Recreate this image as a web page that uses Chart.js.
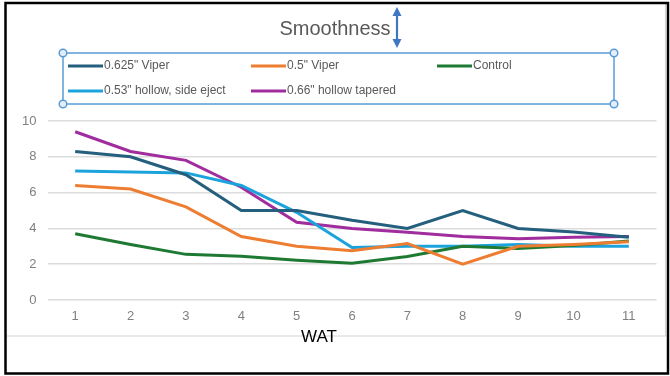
<!DOCTYPE html>
<html>
<head>
<meta charset="utf-8">
<title>Smoothness</title>
<script src="https://cdn.jsdelivr.net/npm/chart.js@4/dist/chart.umd.min.js"></script>
<style>
  html, body { margin: 0; padding: 0; background: #fff; }
  #wrap { width: 670px; height: 376px; position: relative; }
</style>
</head>
<body>
<div id="wrap"><canvas id="smoothChart"></canvas></div>
<script>
// data
const weeks = ['1', '2', '3', '4', '5', '6', '7', '8', '9', '10', '11'];
const viper625 = [8.3, 8.0, 7.0, 5.0, 5.0, 4.45, 4.0, 5.0, 4.0, 3.8, 3.5];
const viper5 = [6.4, 6.2, 5.2, 3.55, 3.0, 2.75, 3.15, 2.0, 3.0, 3.1, 3.25];
const control = [3.7, 3.1, 2.55, 2.45, 2.22, 2.05, 2.43, 3.0, 2.88, 3.05, 3.3];
const hollow53 = [7.2, 7.15, 7.1, 6.4, 4.9, 2.93, 3.0, 3.0, 3.1, 3.0, 3.0];
const hollow66 = [9.4, 8.3, 7.8, 6.3, 4.34, 4.0, 3.78, 3.55, 3.42, 3.5, 3.55];
const yTicks = [0, 2, 4, 6, 8, 10];

const seriesNames = ['0.625" Viper', '0.5" Viper', 'Control', '0.53" hollow, side eject', '0.66" hollow tapered'];
const seriesColors = ['#245f7e', '#ed7d31', '#1e7a32', '#1ca3dc', '#a02c9e'];
const seriesData = [viper625, viper5, control, hollow53, hollow66];

const FONT = '"Liberation Sans", Arial, sans-serif';

// legend grid, frame, arrow and axis caption (Excel-style screenshot)
const decorations = {
    id: 'decorations',
    beforeDraw(chart) {
        const ctx = chart.ctx;
        ctx.save();
        ctx.fillStyle = '#fff';
        ctx.fillRect(0, 0, chart.width, chart.height);
        ctx.restore();
    },
    afterDraw(chart) {
        const ctx = chart.ctx;
        ctx.save();

        // legend box with selection handles
        ctx.strokeStyle = '#5b9bd5';
        ctx.lineWidth = 1.5;
        ctx.strokeRect(63, 53, 551, 51);
        [[63, 53], [614, 53], [63, 104], [614, 104]].forEach(p => {
            ctx.beginPath();
            ctx.arc(p[0], p[1], 3.8, 0, Math.PI * 2);
            ctx.fillStyle = '#e3eefa';
            ctx.fill();
            ctx.stroke();
        });

        // legend items, 3 columns
        const cols = [68, 251, 437];
        const rows = [66, 91];
        ctx.font = '12px ' + FONT;
        ctx.textBaseline = 'middle';
        chart.data.datasets.forEach((ds, i) => {
            const x = cols[i % 3];
            const y = rows[Math.floor(i / 3)];
            ctx.strokeStyle = ds.borderColor;
            ctx.lineWidth = 3;
            ctx.beginPath();
            ctx.moveTo(x, y);
            ctx.lineTo(x + 35, y);
            ctx.stroke();
            ctx.fillStyle = '#595959';
            ctx.fillText(ds.label, x + 36, y);
        });

        // double arrow next to title
        ctx.strokeStyle = '#3f78c0';
        ctx.fillStyle = '#3f78c0';
        ctx.lineWidth = 2.2;
        ctx.beginPath();
        ctx.moveTo(397, 14);
        ctx.lineTo(397, 41);
        ctx.stroke();
        ctx.beginPath();
        ctx.moveTo(397, 7); ctx.lineTo(392.5, 16); ctx.lineTo(401.5, 16);
        ctx.closePath(); ctx.fill();
        ctx.beginPath();
        ctx.moveTo(397, 48); ctx.lineTo(392.5, 39); ctx.lineTo(401.5, 39);
        ctx.closePath(); ctx.fill();

        // outer picture edges
        ctx.strokeStyle = '#d4d4d4';
        ctx.lineWidth = 1.2;
        ctx.beginPath();
        ctx.moveTo(7, 336); ctx.lineTo(667, 336);
        ctx.moveTo(665.5, 4); ctx.lineTo(665.5, 336);
        ctx.stroke();

        ctx.strokeStyle = '#000';
        ctx.lineWidth = 2.5;
        ctx.strokeRect(5.5, 3, 662.5, 370.5);

        // axis caption
        ctx.fillStyle = '#000';
        ctx.font = '17px ' + FONT;
        ctx.textAlign = 'center';
        ctx.textBaseline = 'middle';
        ctx.fillText('WAT', 319, 337);

        ctx.restore();
    }
};

const ctx = document.getElementById('smoothChart').getContext('2d');
new Chart(ctx, {
    type: 'line',
    data: {
        labels: weeks,
        datasets: seriesNames.map((name, i) => ({
            label: name,
            data: seriesData[i],
            borderColor: seriesColors[i],
            backgroundColor: seriesColors[i],
            borderWidth: 3,
            pointRadius: 0,
            tension: 0,
            fill: false
        }))
    },
    options: {
        responsive: true,
        maintainAspectRatio: false,
        animation: false,
        layout: {
            padding: { left: 13.5, right: 13.5, top: 0, bottom: 0 }
        },
        scales: {
            x: {
                offset: true,
                grid: { display: false, drawTicks: false },
                border: { display: false },
                ticks: {
                    color: '#7f7f7f',
                    font: { family: FONT, size: 13 },
                    padding: 9,
                    maxRotation: 0
                },
                afterFit: function (scale) {
                    scale.height = 76;
                }
            },
            y: {
                min: 0,
                max: 10,
                grid: { color: '#dcdcdc', lineWidth: 1.5, drawTicks: false },
                border: { display: false },
                afterBuildTicks: function (scale) {
                    scale.ticks = yTicks.map(v => ({ value: v }));
                },
                ticks: {
                    color: '#7f7f7f',
                    font: { family: FONT, size: 13 },
                    padding: 11
                },
                afterFit: function (scale) {
                    scale.width = 34;
                }
            }
        },
        plugins: {
            title: {
                display: true,
                text: 'Smoothness',
                color: '#595959',
                font: { family: FONT, size: 20, weight: 'normal' },
                padding: { top: 17, bottom: 80 }
            },
            legend: { display: false },
            tooltip: { enabled: false }
        }
    },
    plugins: [decorations]
});
</script>
</body>
</html>
